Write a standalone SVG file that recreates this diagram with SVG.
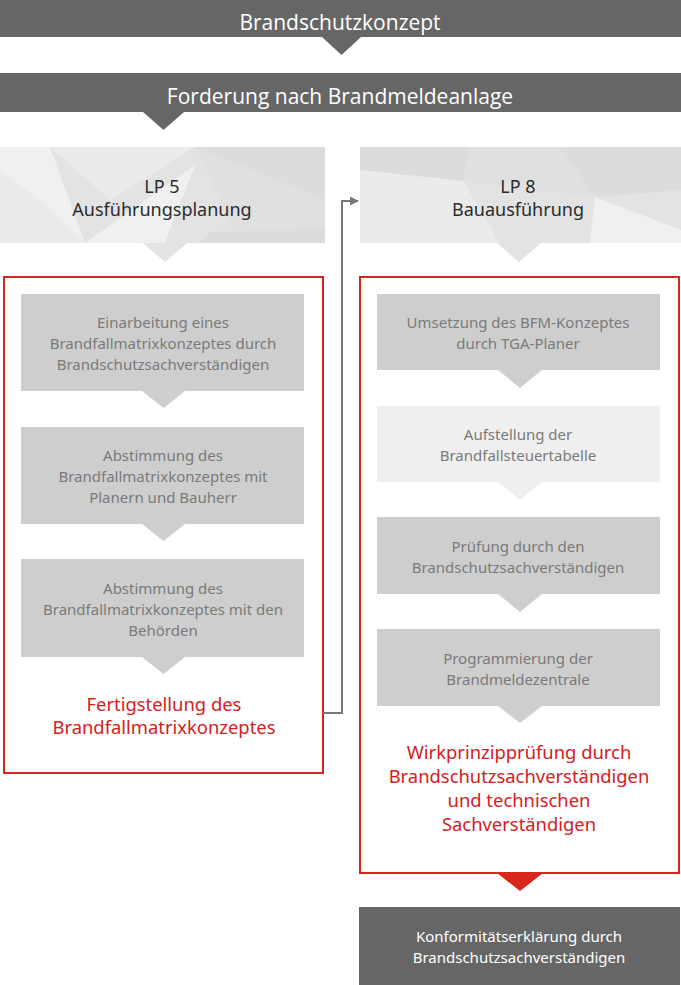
<svg xmlns="http://www.w3.org/2000/svg" width="681" height="985" viewBox="0 0 681 985">
<style>
.bar{fill:#666666}
.bartxt{font-family:"Open Sans","Noto Sans",sans-serif;font-size:21px;fill:#ffffff;text-anchor:middle}
.hdrtxt{font-family:"Noto Sans","Open Sans",sans-serif;font-size:18px;fill:#2b2b2b;text-anchor:middle}
.box{fill:#cecece}
.boxl{fill:#efefef}
.boxtxt{font-family:"Noto Sans","Open Sans",sans-serif;font-size:15px;fill:#7a7a7a;text-anchor:middle}
.redframe{fill:none;stroke:#d9261c;stroke-width:2}
.redtxt{font-family:"Noto Sans","Open Sans",sans-serif;font-size:18.4px;fill:#d42020;text-anchor:middle}
.whitetxt{font-family:"Noto Sans","Open Sans",sans-serif;font-size:15px;fill:#ffffff;text-anchor:middle}
.conn{fill:none;stroke:#777777;stroke-width:2}
.facet1{fill:#ebebeb}
.facet2{fill:#dcdcdc}
.facet3{fill:#f0f0f0}
.facet4{fill:#e0e0e0}
</style>
<defs>
<marker id="arr" viewBox="0 0 10 10" refX="9" refY="5" markerWidth="4.5" markerHeight="4.5" orient="auto" markerUnits="strokeWidth">
<path d="M0,0 L10,5 L0,10 z" fill="#777777"/>
</marker>
</defs>
<rect width="681" height="985" fill="#ffffff"/>

<g id="brandschutzkonzept">
<rect class="bar" x="0" y="0" width="681" height="37"/>
<polygon class="bar" points="322,37 361,37 341.5,55"/>
<text class="bartxt" x="340" y="30">Brandschutzkonzept</text>
</g>

<g id="forderung">
<rect class="bar" x="0" y="73" width="681" height="39"/>
<polygon class="bar" points="143,112 184,112 163.5,130"/>
<text class="bartxt" x="340" y="104">Forderung nach Brandmeldeanlage</text>
</g>

<g id="lp5-header">
<rect x="0" y="147" width="325" height="96" fill="#e3e3e3"/>
<polygon class="facet3" points="0,147 50,147 85,243 0,243"/>
<polygon class="facet1" points="0,170 40,200 85,243 0,243"/>
<polygon class="facet1" points="50,147 195,147 110,200"/>
<polygon class="facet2" points="195,147 325,147 325,200"/>
<polygon class="facet4" points="195,147 325,200 325,243 240,243"/>
<polygon class="facet3" points="85,243 195,165 165,243"/>
<polygon class="facet2" points="210,232 325,228 325,243 200,243"/>
<polygon fill="#e3e3e3" points="143,243 187,243 165,262"/>
<text class="hdrtxt" x="162" y="193">LP 5</text>
<text class="hdrtxt" x="162" y="216">Ausführungsplanung</text>
</g>

<g id="lp8-header">
<rect x="360" y="147" width="321" height="96" fill="#e3e3e3"/>
<polygon class="facet2" points="360,147 470,147 463,181 360,170"/>
<polygon class="facet1" points="360,170 463,181 420,243 360,243"/>
<polygon class="facet4" points="470,147 560,147 595,197 463,181"/>
<polygon class="facet3" points="595,197 681,230 681,243 590,243"/>
<polygon class="facet2" points="560,147 681,147 681,190 595,197"/>
<polygon class="facet1" points="420,243 463,181 500,243"/>
<polygon fill="#e3e3e3" points="497,243 541,243 519,262"/>
<text class="hdrtxt" x="518" y="193">LP 8</text>
<text class="hdrtxt" x="518" y="216">Bauausführung</text>
</g>

<g id="lp5-group">
<rect class="redframe" x="4" y="277" width="319" height="496"/>
</g>

<g id="einarbeitung">
<rect class="box" x="21" y="294" width="283" height="97"/>
<polygon class="box" points="142,391 185,391 163.5,408"/>
<text class="boxtxt" x="163" y="328">Einarbeitung eines</text>
<text class="boxtxt" x="163" y="349">Brandfallmatrixkonzeptes durch</text>
<text class="boxtxt" x="163" y="370">Brandschutzsachverständigen</text>
</g>

<g id="abstimmung-planer">
<rect class="box" x="21" y="427" width="283" height="97"/>
<polygon class="box" points="142,524 185,524 163.5,541"/>
<text class="boxtxt" x="163" y="461">Abstimmung des</text>
<text class="boxtxt" x="163" y="482">Brandfallmatrixkonzeptes mit</text>
<text class="boxtxt" x="163" y="503">Planern und Bauherr</text>
</g>

<g id="abstimmung-behoerden">
<rect class="box" x="21" y="559" width="283" height="98"/>
<polygon class="box" points="142,657 185,657 163.5,674"/>
<text class="boxtxt" x="163" y="594">Abstimmung des</text>
<text class="boxtxt" x="163" y="615">Brandfallmatrixkonzeptes mit den</text>
<text class="boxtxt" x="163" y="636">Behörden</text>
</g>

<g id="fertigstellung">
<text class="redtxt" x="164" y="711">Fertigstellung des</text>
<text class="redtxt" x="164" y="734">Brandfallmatrixkonzeptes</text>
</g>

<g id="lp8-group">
<rect class="redframe" x="360" y="277" width="319" height="596"/>
<polygon fill="#d9261c" points="497,873 543,873 520,891"/>
</g>

<g id="umsetzung">
<rect class="box" x="377" y="294" width="283" height="76"/>
<polygon class="box" points="498,370 542,370 520,388"/>
<text class="boxtxt" x="518" y="328">Umsetzung des BFM-Konzeptes</text>
<text class="boxtxt" x="518" y="349">durch TGA-Planer</text>
</g>

<g id="aufstellung">
<rect class="boxl" x="377" y="406" width="283" height="76"/>
<polygon class="boxl" points="498,482 542,482 520,500"/>
<text class="boxtxt" x="518" y="440">Aufstellung der</text>
<text class="boxtxt" x="518" y="461">Brandfallsteuertabelle</text>
</g>

<g id="pruefung">
<rect class="box" x="377" y="517" width="283" height="77"/>
<polygon class="box" points="498,594 542,594 520,612"/>
<text class="boxtxt" x="518" y="552">Prüfung durch den</text>
<text class="boxtxt" x="518" y="573">Brandschutzsachverständigen</text>
</g>

<g id="programmierung">
<rect class="box" x="377" y="629" width="283" height="77"/>
<polygon class="box" points="498,706 542,706 520,723"/>
<text class="boxtxt" x="518" y="664">Programmierung der</text>
<text class="boxtxt" x="518" y="685">Brandmeldezentrale</text>
</g>

<g id="wirkprinzip">
<text class="redtxt" x="519" y="759">Wirkprinzipprüfung durch</text>
<text class="redtxt" x="519" y="783">Brandschutzsachverständigen</text>
<text class="redtxt" x="519" y="807">und technischen</text>
<text class="redtxt" x="519" y="831">Sachverständigen</text>
</g>

<g id="konformitaet">
<rect class="bar" x="359" y="907" width="321" height="78"/>
<text class="whitetxt" x="519" y="942">Konformitätserklärung durch</text>
<text class="whitetxt" x="519" y="963">Brandschutzsachverständigen</text>
</g>

<g id="connectors">
<path class="conn" d="M323,713 H342 V201 H358" marker-end="url(#arr)"/>
</g>
</svg>
